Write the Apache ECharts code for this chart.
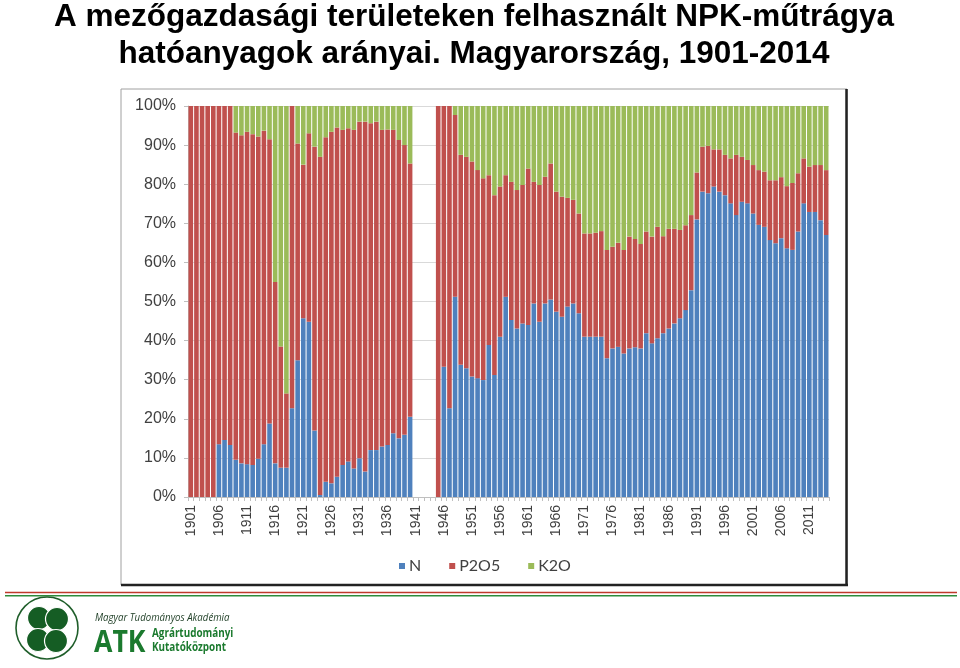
<!DOCTYPE html>
<html>
<head>
<meta charset="utf-8">
<script src="https://cdn.jsdelivr.net/npm/echarts@6/dist/echarts.min.js"></script>
<style>
html,body{margin:0;padding:0;background:#fff;}
#main{width:960px;height:668px;}
</style>
</head>
<body>
<div id="main"></div>
<script>
// Years 1901-2014 (1941-1944 without data)
var years = [];
for (var y = 1901; y <= 2014; y++) years.push(String(y));

var seriesNames = ['N', 'P2O5', 'K2O'];

// N share (%)
var nShare = [
  0,0,0,0,0,13.5,14.6,13.3,9.5,8.6,
  8.4,8.2,9.8,13.5,18.8,8.6,7.5,7.5,22.7,35,
  45.7,44.8,17,0.5,3.9,3.5,5.2,8.2,9.1,7.3,
  9.9,6.5,12,12,12.9,13.3,16.3,15,15.9,20.5,
  null,null,null,null,0,33.3,22.7,51.2,33.8,32.9,
  30.8,30.4,29.9,38.9,31.2,41,51.2,45.3,43.1,44.4,
  44,49.5,44.8,49.5,50.5,47.4,46.1,48.7,49.5,47,
  41,41,41,41,35.5,38,38.4,36.7,38,38.3,
  38,41.9,39.3,40.6,41.9,43.1,44.4,45.7,47.8,52.9,
  71,78.1,77.7,79.4,78.1,77.2,75.1,72.1,75.5,75.1,
  72.5,69.6,69.1,65.7,64.9,66.2,63.6,63.2,67.9,75.1,
  72.9,72.9,70.8,67
];

// P2O5 share (%)
var pShare = [
  100,100,100,100,100,86.5,85.4,86.7,83.7,83.9,
  85,84.6,82.4,80.2,72.7,46.4,31,19,77.3,55.4,
  39.3,48.2,72.6,86.5,88.1,89.9,89.3,85.7,85.2,86.6,
  86.1,89.5,83.6,84,81,80.7,77.6,76.3,74.1,64.8,
  null,null,null,null,100,66.7,77.3,46.5,53.7,54.1,
  55,53.2,51.6,43.4,46,38.4,31.1,35.3,35.4,35.4,
  40,31.1,35,32.4,34.8,30.7,30.7,27.8,26.5,25.5,
  26.4,26.4,26.6,27,27.7,26,26.6,26.5,28.6,27.7,
  26.7,26,27.3,28.5,24.8,25.5,24.2,22.6,21.7,19.2,
  12,11.5,12.1,9.5,10.8,10.3,11.5,15.4,11.5,11.1,
  12.4,14,14.1,15.3,16.1,15.6,15.9,17.1,14.9,11.5,
  11.6,12,14.1,16.6
];

// K2O share (%)
var kShare = [
  0,0,0,0,0,0,0,0,6.8,7.5,
  6.6,7.2,7.8,6.3,8.5,45,61.5,73.5,0,9.6,
  15,7,10.4,13,8,6.6,5.5,6.1,5.7,6.1,
  4,4,4.4,4,6.1,6,6.1,8.7,10,14.7,
  null,null,null,null,0,0,0,2.3,12.5,13,
  14.2,16.4,18.5,17.7,22.8,20.6,17.7,19.4,21.5,20.2,
  16,19.4,20.2,18.1,14.7,21.9,23.2,23.5,24,27.5,
  32.6,32.6,32.4,32,36.8,36,35,36.8,33.4,34,
  35.3,32.1,33.4,30.9,33.3,31.4,31.4,31.7,30.5,27.9,
  17,10.4,10.2,11.1,11.1,12.5,13.4,12.5,13,13.8,
  15.1,16.4,16.8,19,19,18.2,20.5,19.7,17.2,13.4,
  15.5,15.1,15.1,16.4
];

var titleLines = ['A mezőgazdasági területeken felhasznált NPK-műtrágya', 'hatóanyagok arányai. Magyarország, 1901-2014'];
var colors = ['#4f81bd', '#c0504d', '#9bbb59'];

var chart = echarts.init(document.getElementById('main'), null, {renderer: 'canvas'});

var barSeries = [nShare, pShare, kShare].map(function (arr, i) {
  return {
    name: seriesNames[i],
    type: 'bar',
    stack: 'total',
    data: arr,
    barCategoryGap: '18%',
    itemStyle: {color: colors[i]},
    emphasis: {disabled: true},
    animation: false
  };
});

var titleFont = 'bold 31.5px "Liberation Sans", Arial, sans-serif';

var option = {
  animation: false,
  backgroundColor: '#ffffff',
  textStyle: {fontFamily: 'Liberation Sans, Arial, sans-serif'},
  legend: {
    data: seriesNames,
    left: 394,
    top: 553,
    itemWidth: 6,
    itemHeight: 6,
    itemGap: 28,
    icon: 'rect',
    textStyle: {fontSize: 16, color: '#404040', fontFamily: 'Lato, Liberation Sans, sans-serif', padding: [0, 0, 0, -1]}
  },
  grid: {left: 188, right: 131, top: 106, bottom: 171, containLabel: false},
  xAxis: {
    type: 'category',
    data: years,
    axisLine: {lineStyle: {color: '#bfbfbf'}},
    axisTick: {show: true, interval: 0, length: 4, lineStyle: {color: '#bfbfbf'}},
    axisLabel: {interval: 4, rotate: 90, fontSize: 14, color: '#404040', margin: 8}
  },
  yAxis: {
    type: 'value',
    min: 0, max: 100, interval: 10,
    axisLine: {show: true, lineStyle: {color: '#bfbfbf'}},
    axisTick: {show: true, length: 4, lineStyle: {color: '#bfbfbf'}},
    splitLine: {lineStyle: {color: '#d9d9d9'}},
    axisLabel: {formatter: '{value}%', fontSize: 16, color: '#404040', margin: 12}
  },
  series: barSeries,
  graphic: [
    {type: 'text', x: 474, y: 33, style: {text: titleLines[0], fill: '#000', font: titleFont, textAlign: 'center', textVerticalAlign: 'bottom'}, silent: true},
    {type: 'text', x: 474, y: 70, style: {text: titleLines[1], fill: '#000', font: titleFont, textAlign: 'center', textVerticalAlign: 'bottom'}, silent: true},
    {type: 'rect', shape: {x: 121, y: 89, width: 726, height: 496}, style: {fill: 'none', stroke: '#a0a0a0', lineWidth: 1}, silent: true},
    {type: 'line', shape: {x1: 846.5, y1: 89, x2: 846.5, y2: 586}, style: {stroke: '#222', lineWidth: 2.5}, silent: true},
    {type: 'line', shape: {x1: 121, y1: 585, x2: 848, y2: 585}, style: {stroke: '#222', lineWidth: 2.5}, silent: true},
    {type: 'line', shape: {x1: 5, y1: 592.5, x2: 957, y2: 592.5}, style: {stroke: '#c0392b', lineWidth: 1.6}, silent: true},
    {type: 'line', shape: {x1: 5, y1: 595.8, x2: 957, y2: 595.8}, style: {stroke: '#2e8b3a', lineWidth: 1.6}, silent: true},
    {type: 'circle', shape: {cx: 47, cy: 628, r: 31}, style: {fill: 'none', stroke: '#1f5e2a', lineWidth: 1.6}, silent: true},
    {type: 'circle', shape: {cx: 39, cy: 618, r: 11.5}, style: {fill: '#155d24', stroke: '#fff', lineWidth: 1.2}, silent: true},
    {type: 'circle', shape: {cx: 57, cy: 619, r: 11.5}, style: {fill: '#155d24', stroke: '#fff', lineWidth: 1.2}, silent: true},
    {type: 'circle', shape: {cx: 38, cy: 640, r: 11.5}, style: {fill: '#155d24', stroke: '#fff', lineWidth: 1.2}, silent: true},
    {type: 'circle', shape: {cx: 56, cy: 641, r: 11.5}, style: {fill: '#155d24', stroke: '#fff', lineWidth: 1.2}, silent: true},
    {type: 'text', x: 95, y: 618, scaleX: 0.92, style: {text: 'Magyar Tudományos Akadémia', fill: '#1d3d24', font: 'italic 10.5px "Open Sans", sans-serif', textVerticalAlign: 'middle'}, silent: true},
    {type: 'text', x: 94, y: 643, scaleX: 0.86, style: {text: 'ATK', fill: '#1b7a2e', font: 'bold 31px "Open Sans", sans-serif', textVerticalAlign: 'middle'}, silent: true},
    {type: 'text', x: 152, y: 634, scaleX: 0.86, style: {text: 'Agrártudományi', fill: '#1b7a2e', font: 'bold 11.5px "Open Sans", sans-serif', textVerticalAlign: 'middle'}, silent: true},
    {type: 'text', x: 152, y: 648, scaleX: 0.86, style: {text: 'Kutatóközpont', fill: '#1b7a2e', font: 'bold 11.5px "Open Sans", sans-serif', textVerticalAlign: 'middle'}, silent: true}
  ]
};
chart.setOption(option);
</script>
</body>
</html>
